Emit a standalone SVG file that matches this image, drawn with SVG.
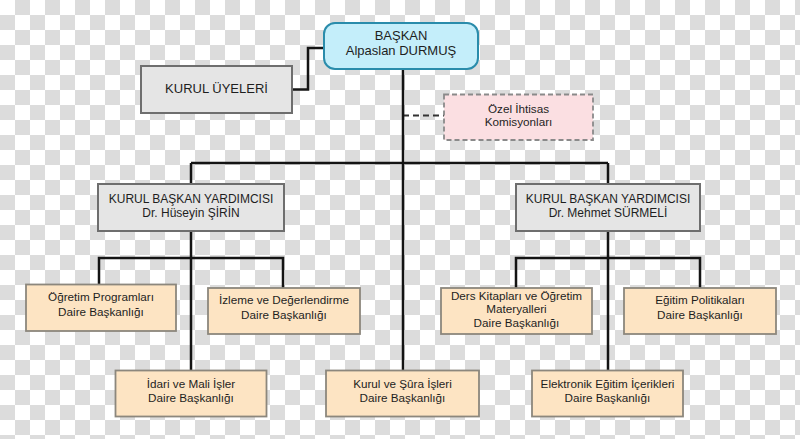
<svg xmlns="http://www.w3.org/2000/svg" width="800" height="439" viewBox="0 0 800 439">
<defs>
<pattern id="checker" x="0" y="0" width="30" height="30" patternUnits="userSpaceOnUse">
<rect x="0" y="0" width="30" height="30" fill="#ffffff"/>
<rect x="15" y="0" width="15" height="15" fill="#dcdcdc"/>
<rect x="0" y="15" width="15" height="15" fill="#dcdcdc"/>
</pattern>
</defs>
<style>
.line{fill:none;stroke:#141414;stroke-width:2.5}
.dash{fill:none;stroke:#333333;stroke-width:2;stroke-dasharray:6 4}
.head{fill:#c4eefa;stroke:#2a8cab;stroke-width:2}
.gray{fill:#e5e5e5;stroke:#6e6e6e;stroke-width:2}
.orange{fill:#fde4c3;stroke:#8c877d;stroke-width:1.8}
.pink{fill:#fbdfe2;stroke:#8a8a8a;stroke-width:1.8;stroke-dasharray:5 3}
text{font-family:"Liberation Sans",Arial,sans-serif;fill:#1e1e1e;text-anchor:middle}
.t13{font-size:13px}
.t12{font-size:12px}
.t11{font-size:11.7px}
</style>
<rect x="0" y="0" width="800" height="439" fill="url(#checker)"/>
<g id="connectors">
<path class="line" d="M292,89.5 H308 V48 H324"/>
<path class="dash" d="M403,115.5 H444"/>
<path class="line" d="M403,69 V370.5"/>
<path class="line" d="M191,163 H608"/>
<path class="line" d="M191,163 V370.5"/>
<path class="line" d="M608,163 V370.5"/>
<path class="line" d="M99,284.5 V258 H283 V288"/>
<path class="line" d="M516,288 V258 H700 V288"/>
</g>
<g id="baskan">
<rect class="head" x="324" y="23" width="154" height="46" rx="11"/>
<text class="t13" x="401" y="39.5">BAŞKAN</text>
<text class="t13" x="401" y="54.5">Alpaslan DURMUŞ</text>
</g>
<g id="kurul-uyeleri">
<rect class="gray" x="141" y="66" width="151" height="47"/>
<text class="t13" x="216.5" y="93">KURUL ÜYELERİ</text>
</g>
<g id="ozel-ihtisas">
<rect class="pink" x="444" y="94.5" width="149" height="45.5"/>
<text class="t11" x="518.5" y="112.5">Özel İhtisas</text>
<text class="t11" x="518.5" y="126">Komisyonları</text>
</g>
<g id="kby-left">
<rect class="gray" x="98" y="184" width="186" height="47"/>
<text class="t12" x="191" y="202.5">KURUL BAŞKAN YARDIMCISI</text>
<text class="t12" x="191" y="216.5">Dr. Hüseyin ŞİRİN</text>
</g>
<g id="kby-right">
<rect class="gray" x="516" y="184" width="184" height="47"/>
<text class="t12" x="608" y="202.5">KURUL BAŞKAN YARDIMCISI</text>
<text class="t12" x="608" y="216.5">Dr. Mehmet SÜRMELİ</text>
</g>
<g id="ogretim-programlari">
<rect class="orange" x="26" y="284.5" width="150" height="46.5"/>
<text class="t11" x="101" y="301">Öğretim Programları</text>
<text class="t11" x="101" y="316">Daire Başkanlığı</text>
</g>
<g id="izleme">
<rect class="orange" x="208" y="288" width="152" height="46"/>
<text class="t11" x="284" y="304">İzleme ve Değerlendirme</text>
<text class="t11" x="284" y="319">Daire Başkanlığı</text>
</g>
<g id="ders-kitaplari">
<rect class="orange" x="441" y="288" width="151" height="46"/>
<text class="t11" x="516.5" y="299.5">Ders Kitapları ve Öğretim</text>
<text class="t11" x="516.5" y="313">Materyalleri</text>
<text class="t11" x="516.5" y="326.5">Daire Başkanlığı</text>
</g>
<g id="egitim-politikalari">
<rect class="orange" x="624" y="288" width="152" height="46"/>
<text class="t11" x="700" y="304">Eğitim Politikaları</text>
<text class="t11" x="700" y="318.5">Daire Başkanlığı</text>
</g>
<g id="idari-mali">
<rect class="orange" x="115.5" y="370.5" width="151" height="46"/>
<text class="t11" x="191" y="387.5">İdari ve Mali İşler</text>
<text class="t11" x="191" y="402">Daire Başkanlığı</text>
</g>
<g id="kurul-sura">
<rect class="orange" x="326" y="370.5" width="153" height="46"/>
<text class="t11" x="402.5" y="387.5">Kurul ve Şûra İşleri</text>
<text class="t11" x="402.5" y="402">Daire Başkanlığı</text>
</g>
<g id="elektronik">
<rect class="orange" x="532" y="370.5" width="151" height="46"/>
<text class="t11" x="607.5" y="387.5">Elektronik Eğitim İçerikleri</text>
<text class="t11" x="607.5" y="402">Daire Başkanlığı</text>
</g>
</svg>
